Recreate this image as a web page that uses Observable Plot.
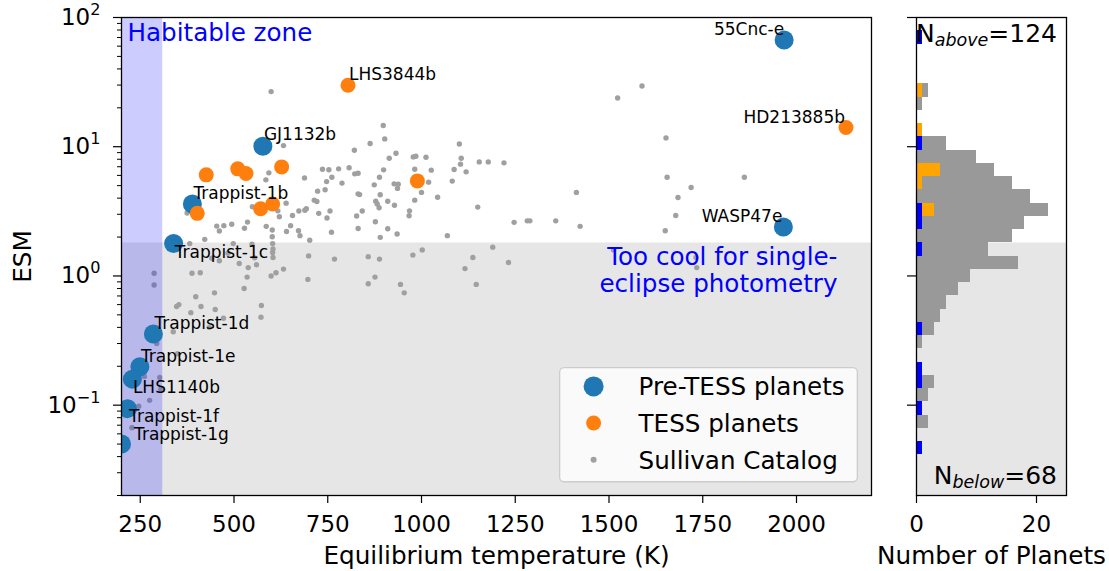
<!DOCTYPE html>
<html>
<head>
<meta charset="utf-8">
<script src="https://cdn.jsdelivr.net/npm/d3@7"></script>
<script src="https://cdn.jsdelivr.net/npm/@observablehq/plot@0.6"></script>
<style>
  body { margin: 0; background: #ffffff; font-family: "DejaVu Sans", sans-serif; }
  #chart { position: relative; width: 1109px; height: 571px; overflow: hidden; }
  #chart > div { position: absolute; top: 0; }
  #chart svg { overflow: visible; }
</style>
</head>
<body>
<div id="chart"></div>
<script>
// ---- Pre-TESS planets (named) ----
const preTessNames = ["55Cnc-e", "WASP47e", "GJ1132b", "Trappist-1b", "Trappist-1c", "Trappist-1d", "Trappist-1e", "LHS1140b", "Trappist-1f", "Trappist-1g"];
const preTessTeq   = [1967, 1965, 577, 389, 339, 285, 249, 229, 216, 200];
const preTessEsm   = [67, 2.39, 10.1, 3.6, 1.78, 0.355, 0.198, 0.159, 0.094, 0.05];

// ---- TESS planets ----
const tessNames = ["LHS3844b", "HD213885b", null, null, null, null, null, null, null, null];
const tessTeq   = [804, 2132, 426, 510, 532, 627, 402, 571, 603, 989];
const tessEsm   = [29.9, 14.1, 6.06, 6.74, 6.21, 6.98, 3.05, 3.31, 3.6, 5.44];

// ---- Sullivan catalog (simulated TESS yield) ----
const sullivanTeq = [
  599, 1588, 1523, 898, 902, 863, 632, 1101, 1652, 821, 932, 914, 985, 978, 1012, 1106, 1104, 1154, 1178, 1220,
  982, 1026, 1087, 1119, 807, 779, 753, 736, 822, 831, 899, 888, 593, 585, 688, 761, 747, 788, 874, 927,
  938, 936, 1019, 1082, 723, 743, 831, 835, 890, 1000, 1043, 982, 878, 910, 714, 721, 639, 549, 617, 621,
  673, 689, 693, 656, 726, 756, 748, 842, 827, 882, 887, 928, 968, 967, 1150, 375, 877, 831, 910, 935,
  890, 1069, 760, 672, 676, 640, 651, 602, 602, 586, 536, 528, 494, 473, 454, 461, 422, 702, 1413, 1655,
  1861, 1719, 1684, 1678, 1650, 1247, 1282, 1289, 1358, 1423,
  382, 498, 603, 548, 604, 1002, 1190, 441, 461, 484, 514, 538, 555, 560, 603, 604, 632, 612, 599, 535,
  527, 699, 697, 768, 858, 888, 858, 876, 944, 954, 977, 1116, 1137, 1146, 1232, 1512, 1732, 1734, 287, 287,
  388, 410, 398, 448, 347, 353, 385, 412, 450, 573, 572, 472, 434, 338, 294, 349, 261, 302, 305, 275,
  246, 228
];
const sullivanEsm = [
  26.7, 29.5, 23.8, 14.6, 11.5, 10.6, 10.2, 10.5, 11.7, 9.4, 8.9, 8.15, 8.45, 8.34, 8.3, 8.15, 7.33, 7.63, 7.63, 7.5,
  6.7, 6.59, 6.67, 6.39, 6.88, 6.74, 6.64, 6.7, 6.17, 6.24, 6.62, 5.81, 6.28, 5.54, 5.74, 5.81, 5.37, 5.23, 5.07, 5.16,
  5.13, 4.76, 5.32, 5.42, 4.53, 4.64, 4.32, 4.26, 4.25, 4.43, 4.06, 3.86, 3.79, 3.79, 3.86, 3.77, 3.66, 3.43, 3.19, 2.87,
  3.18, 3.22, 3.31, 2.94, 3.05, 3.18, 2.81, 3.18, 2.91, 3.6, 3.37, 3.52, 3.19, 2.92, 3.41, 3.07, 2.63, 2.33, 2.32, 2.11,
  1.99, 2.05, 2.18, 2.24, 2.05, 2.21, 2.45, 2.27, 2.01, 2.42, 2.61, 2.34, 2.51, 2.45, 2.43, 2.23, 1.92, 1.89, 4.43, 5.81,
  5.81, 4.84, 4.05, 2.94, 2.24, 2.6, 2.67, 2.67, 2.67, 2.42,
  1.78, 1.78, 1.78, 1.76, 1.62, 1.59, 1.67, 1.37, 1.31, 1.5, 1.25, 1.16, 1.38, 1.22, 1.52, 1.39, 1.13, 1.06, 1.0, 0.98,
  0.80, 1.43, 0.94, 1.35, 1.41, 1.35, 0.87, 0.98, 0.86, 0.74, 1.45, 1.14, 1.39, 0.86, 1.27, 1.59, 1.39, 1.16, 1.05, 0.85,
  1.05, 1.06, 0.69, 0.74, 0.58, 0.60, 0.52, 0.58, 0.55, 0.59, 0.48, 0.47, 0.40, 0.37, 0.30, 0.25, 0.167, 0.164, 0.133, 0.109,
  0.098, 0.067
];

// Catalog counts per log-ESM bin (39 bins from 0.01 to 100), lowest bin first
const catalogBinCounts = [
  0, 0, 0, 0, 0, 0, 1, 0, 2, 1, 2, 3, 1, 0, 1, 3, 4, 5, 7, 9,
  17, 12, 16, 18, 22, 19, 16, 13, 10, 5, 1, 0, 1, 2, 0, 0, 0, 1, 0
];

// ---- Axes / annotations ----
const xDomain = [200, 2200];
const yDomain = [0.02, 100];
const histDomain = [0, 25];
const esmThreshold = 1.8;
const habitableZoneMax = 310;
const xTicks = [250, 500, 750, 1000, 1250, 1500, 1750, 2000];
const histTicks = [0, 20];
const yMajorTicks = [0.1, 1, 10, 100];
const xLabel = "Equilibrium temperature (K)";
const yLabel = "ESM";
const histLabel = "Number of Planets";
const habitableLabel = "Habitable zone";
const coolLabel = "Too cool for single-\neclipse photometry";
const legendLabels = ["Pre-TESS planets", "TESS planets", "Sullivan Catalog"];

// ---- Styling ----
const C = {
  preTess: "#1f77b4", tess: "#ff7f0e", catalog: "#a0a0a0",
  histCatalog: "#999999", histTess: "#ffa500", histPreTess: "#0000ff"
};
const FONT = "DejaVu Sans";

// Label placement around each named planet: anchor side and offsets (px)
const labelPlacement = {
  "55Cnc-e":     {anchor: "end",   dx: 0,    dy: -5},
  "WASP47e":     {anchor: "end",   dx: -1,   dy: -5},
  "HD213885b":   {anchor: "end",   dx: -1,   dy: -4.5},
  "LHS3844b":    {anchor: "start", dx: 1,    dy: -5},
  "GJ1132b":     {anchor: "start", dx: 1,    dy: -6},
  "Trappist-1b": {anchor: "start", dx: 1,    dy: -5},
  "Trappist-1c": {anchor: "start", dx: 1,    dy: 14.5},
  "Trappist-1d": {anchor: "start", dx: 1,    dy: -5},
  "Trappist-1e": {anchor: "start", dx: 1,    dy: -5},
  "LHS1140b":    {anchor: "start", dx: 0.5,  dy: 14},
  "Trappist-1f": {anchor: "start", dx: 1.5,  dy: 13.5},
  "Trappist-1g": {anchor: "start", dx: 12.5, dy: -4}
};

// ---- Tables built from the arrays ----
const preTess = preTessNames.map((name, i) => ({name, teq: preTessTeq[i], esm: preTessEsm[i]}));
const tess = tessTeq.map((teq, i) => ({name: tessNames[i], teq, esm: tessEsm[i]}));
const catalog = sullivanTeq.map((teq, i) => ({teq, esm: sullivanEsm[i]}));
const named = [...preTess, ...tess.filter(d => d.name)];

// Logarithmic histogram bins: 0.01 .. 100 in 39 steps
const binEdges = d3.range(40).map(k => 10 ** (-2 + 4 * k / 39));
const catalogHist = catalogBinCounts
  .map((count, i) => ({count, lo: binEdges[i], hi: binEdges[i + 1]}))
  .filter(d => d.count > 0);
const binner = d3.bin().domain([binEdges[0], binEdges[39]]).thresholds(binEdges);
const toHist = values => binner(values).filter(b => b.length > 0).map(b => ({count: b.length, lo: b.x0, hi: b.x1}));
const tessHist = toHist(tessEsm);
const preTessHist = toHist(preTessEsm);

const nAbove = d3.sum(catalogHist.filter(d => d.lo >= esmThreshold), d => d.count);
const nBelow = d3.sum(catalogHist.filter(d => d.hi <= esmThreshold * 1.01), d => d.count);

// Minor ticks of the log axis
const yMinorTicks = [];
for (const decade of [0.01, 0.1, 1, 10]) {
  for (let m = 2; m <= 9; ++m) {
    const v = m * decade;
    if (v >= yDomain[0] && v <= yDomain[1]) yMinorTicks.push(v);
  }
}

const superscriptFormat = d => `10^${Math.round(Math.log10(d))}`.replace("-", "\u2212");
const plainFormat = d => String(d);

const H = 571;
const M = {top: 17, bottom: 76};
const svgStyle = {background: "transparent", fontFamily: FONT, fontSize: "23px", color: "black", overflow: "visible"};

// ---- Main scatter panel ----
const mainW = 880, mainLeft = 121, mainRight = 9;
const main = Plot.plot({
  width: mainW, height: H,
  marginLeft: mainLeft, marginRight: mainRight, marginTop: M.top, marginBottom: M.bottom,
  style: svgStyle,
  x: {domain: xDomain},
  y: {type: "log", domain: yDomain},
  marks: [
    Plot.rect([0], {x1: xDomain[0], x2: xDomain[1], y1: yDomain[0], y2: esmThreshold, fill: "gray", fillOpacity: 0.2}),
    Plot.dot(catalog, {x: "teq", y: "esm", r: 2.7, fill: C.catalog, stroke: "none", clip: true}),
    Plot.rect([0], {x1: xDomain[0], x2: habitableZoneMax, y1: yDomain[0], y2: yDomain[1], fill: "blue", fillOpacity: 0.2}),
    Plot.dot(preTess, {x: "teq", y: "esm", r: 9.5, fill: C.preTess, stroke: "none", clip: true}),
    Plot.dot(tess, {x: "teq", y: "esm", r: 7.5, fill: C.tess, stroke: "none", clip: true}),
    ...named.map(d => {
      const p = labelPlacement[d.name];
      return Plot.text([d], {x: "teq", y: "esm", text: "name", textAnchor: p.anchor, lineAnchor: "bottom",
        dx: p.dx, dy: p.dy, fontSize: 17, fill: "black"});
    }),
    Plot.text([habitableLabel], {frameAnchor: "top-left", dx: 6, dy: 6, lineAnchor: "top", textAnchor: "start",
      fill: "blue", fontSize: 24.6}),
    Plot.text([{x: xDomain[1], y: esmThreshold, t: coolLabel}], {x: "x", y: "y", text: "t", dx: -34, dy: 3.2,
      textAnchor: "end", lineAnchor: "top", lineHeight: 1.085, fill: "blue", fontSize: 24.6}),
    Plot.axisX({ticks: xTicks, tickSize: 8, tickPadding: 12, tickFormat: plainFormat, label: null, fontSize: 23, strokeWidth: 1.2}),
    Plot.axisY({ticks: yMinorTicks, tickSize: 4, tickFormat: () => "", label: null, strokeWidth: 1}),
    Plot.axisY({ticks: yMajorTicks, tickSize: 8, tickPadding: 13, tickFormat: superscriptFormat, label: null,
      fontSize: 23, strokeWidth: 1.2}),
    Plot.text([xLabel], {frameAnchor: "bottom", dy: 68, lineAnchor: "bottom", fontSize: 24.7}),
    Plot.text([yLabel], {frameAnchor: "left", dx: -91, rotate: -90, textAnchor: "middle", lineAnchor: "bottom", fontSize: 24.7}),
    Plot.frame({stroke: "black", strokeWidth: 1.3})
  ]
});

// Turn "10^k" tick labels into a base with a raised exponent
d3.select(main).selectAll("text").each(function () {
  const s = this.textContent;
  if (!/^10\^/.test(s)) return;
  const exp = s.slice(3);
  this.textContent = "10";
  const sup = document.createElementNS("http://www.w3.org/2000/svg", "tspan");
  sup.setAttribute("dy", "-0.62em");
  sup.setAttribute("font-size", "0.7em");
  sup.textContent = exp;
  this.appendChild(sup);
});

// ---- Histogram panel ----
const histW = 249, histLeft = 56, histRight = 43;
const hist = Plot.plot({
  width: histW, height: H,
  marginLeft: histLeft, marginRight: histRight, marginTop: M.top, marginBottom: M.bottom,
  style: svgStyle,
  x: {domain: histDomain},
  y: {type: "log", domain: yDomain},
  marks: [
    Plot.rect([0], {x1: histDomain[0], x2: histDomain[1], y1: yDomain[0], y2: esmThreshold, fill: "gray", fillOpacity: 0.2}),
    Plot.rect(catalogHist, {x1: 0, x2: "count", y1: "lo", y2: "hi", fill: C.histCatalog, shapeRendering: "crispEdges"}),
    Plot.rect(tessHist, {x1: 0, x2: "count", y1: "lo", y2: "hi", fill: C.histTess, shapeRendering: "crispEdges"}),
    Plot.rect(preTessHist, {x1: 0, x2: "count", y1: "lo", y2: "hi", fill: C.histPreTess, shapeRendering: "crispEdges"}),
    Plot.axisX({ticks: histTicks, tickSize: 8, tickPadding: 12, tickFormat: plainFormat, label: null, fontSize: 23, strokeWidth: 1.2}),
    Plot.axisY({ticks: yMajorTicks, tickSize: 9, tickFormat: () => "", label: null, strokeWidth: 1.2}),
    Plot.text([histLabel], {frameAnchor: "bottom", dy: 68, lineAnchor: "bottom", fontSize: 24.7}),
    Plot.frame({stroke: "black", strokeWidth: 1.3})
  ]
});

// Counts of catalog planets above / below the threshold
function countLabel(svg, y, sub, n) {
  const t = d3.select(svg).append("text")
    .attr("x", histW - histRight - 9).attr("y", y)
    .attr("text-anchor", "end").attr("font-size", 25).attr("font-family", FONT).attr("fill", "black");
  t.append("tspan").text("N");
  t.append("tspan").attr("dy", 3.5).attr("font-size", 17.5).attr("font-style", "italic").text(sub);
  t.append("tspan").attr("dy", -3.5).text(`=${n}`);
}
countLabel(hist, M.top + 25, "above", nAbove);
countLabel(hist, H - M.bottom - 10.7, "below", nBelow);

// ---- Legend ----
const legendItems = [
  {label: legendLabels[0], color: C.preTess, r: 10},
  {label: legendLabels[1], color: C.tess, r: 7.5},
  {label: legendLabels[2], color: C.catalog, r: 3}
];
const legendBox = {left: 558.7, top: 367.3, width: 299, height: 115.4};
const legend = d3.create("svg")
  .attr("width", legendBox.width).attr("height", legendBox.height)
  .style("display", "block");
legend.append("rect")
  .attr("x", 0.65).attr("y", 0.65)
  .attr("width", legendBox.width - 1.3).attr("height", legendBox.height - 1.3)
  .attr("rx", 4.5).attr("fill", "white").attr("fill-opacity", 0.8)
  .attr("stroke", "#cccccc").attr("stroke-width", 1.3);
const rows = legend.selectAll("g").data(legendItems).join("g")
  .attr("transform", (d, i) => `translate(34.6, ${19.4 + i * 36.65})`);
rows.append("circle").attr("r", d => d.r).attr("fill", d => d.color);
rows.append("text").attr("x", 45).attr("y", 8.8)
  .attr("font-family", FONT).attr("font-size", 24.6).attr("fill", "black")
  .text(d => d.label);

// ---- Assemble ----
const chart = document.getElementById("chart");
const place = (node, left, top = 0) => {
  const div = document.createElement("div");
  div.style.left = left + "px";
  div.style.top = top + "px";
  div.appendChild(node);
  chart.appendChild(div);
};
place(main, 0);
place(hist, 860);
place(legend.node(), legendBox.left, legendBox.top);
</script>
</body>
</html>
